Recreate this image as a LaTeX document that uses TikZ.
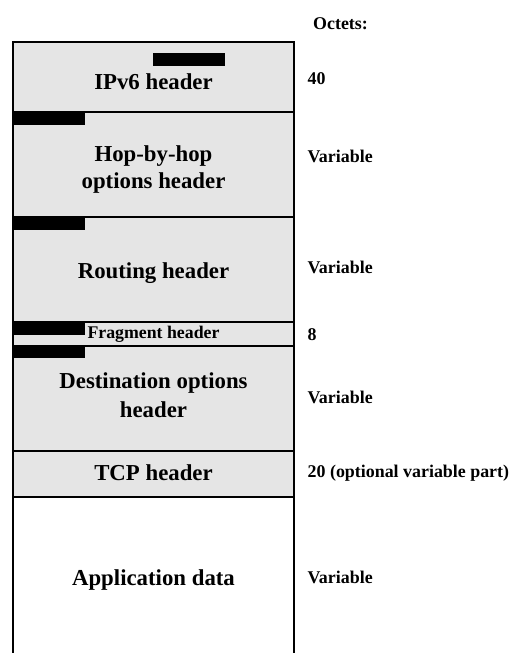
\documentclass[tikz,border=0pt]{standalone}
\usepackage{fontspec}
\setmainfont{Liberation Serif}
\begin{document}
\begin{tikzpicture}[x=1pt,y=-1pt,
  seg/.style={draw=black,line width=1.6pt,fill=black!10},
  plain/.style={draw=black,line width=1.6pt},
  bar/.style={fill=black},
  hdr/.style={anchor=base,align=center,font=\bfseries\fontsize{22.8}{27}\selectfont,inner sep=0pt},
  small/.style={anchor=base,font=\bfseries\fontsize{17.8}{20}\selectfont,inner sep=0pt},
  octet/.style={anchor=base west,font=\bfseries\fontsize{17.9}{20}\selectfont,inner sep=0pt}]
\useasboundingbox (0,0) rectangle (516,653);
% header stack
\draw[seg] (13,42) rectangle (294,112);
\draw[seg] (13,112) rectangle (294,217);
\draw[seg] (13,217) rectangle (294,322);
\draw[seg] (13,322) rectangle (294,346);
\draw[seg] (13,346) rectangle (294,451);
\draw[seg] (13,451) rectangle (294,497);
\draw[plain] (13,660) -- (13,497) -- (294,497) -- (294,660);
% black tabs
\fill[bar] (153,53) rectangle (225,66);
\fill[bar] (13,112) rectangle (85,125);
\fill[bar] (13,217) rectangle (85,230);
\fill[bar] (13,322) rectangle (85,335);
\fill[bar] (13,346) rectangle (85,358);
% labels inside the stack
\node[hdr] (ipv6) at (153.5,89.5) {IPv6 header};
\node[hdr] (hop1) at (153.5,161) {Hop-by-hop};
\node[hdr] (hop2) at (153.5,188) {options header};
\node[hdr] (rout) at (153.5,278) {Routing header};
\node[small] (frag) at (153.5,338.5) {Fragment header};
\node[hdr] (dest1) at (153.5,388) {Destination options};
\node[hdr] (dest2) at (153.5,417) {header};
\node[hdr] (tcp) at (153.5,480) {TCP header};
\node[hdr] (app) at (153.5,585) {Application data};
% octet counts
\node[octet] (oct) at (313,29.5) {Octets:};
\node[octet] (o1) at (307.5,84) {40};
\node[octet] (o2) at (307.5,162) {Variable};
\node[octet] (o3) at (307.5,273) {Variable};
\node[octet] (o4) at (307.5,340) {8};
\node[octet] (o5) at (307.5,403) {Variable};
\node[octet] (o6) at (307.5,477) {20 (optional variable part)};
\node[octet] (o7) at (307.5,583) {Variable};
\end{tikzpicture}
\end{document}
